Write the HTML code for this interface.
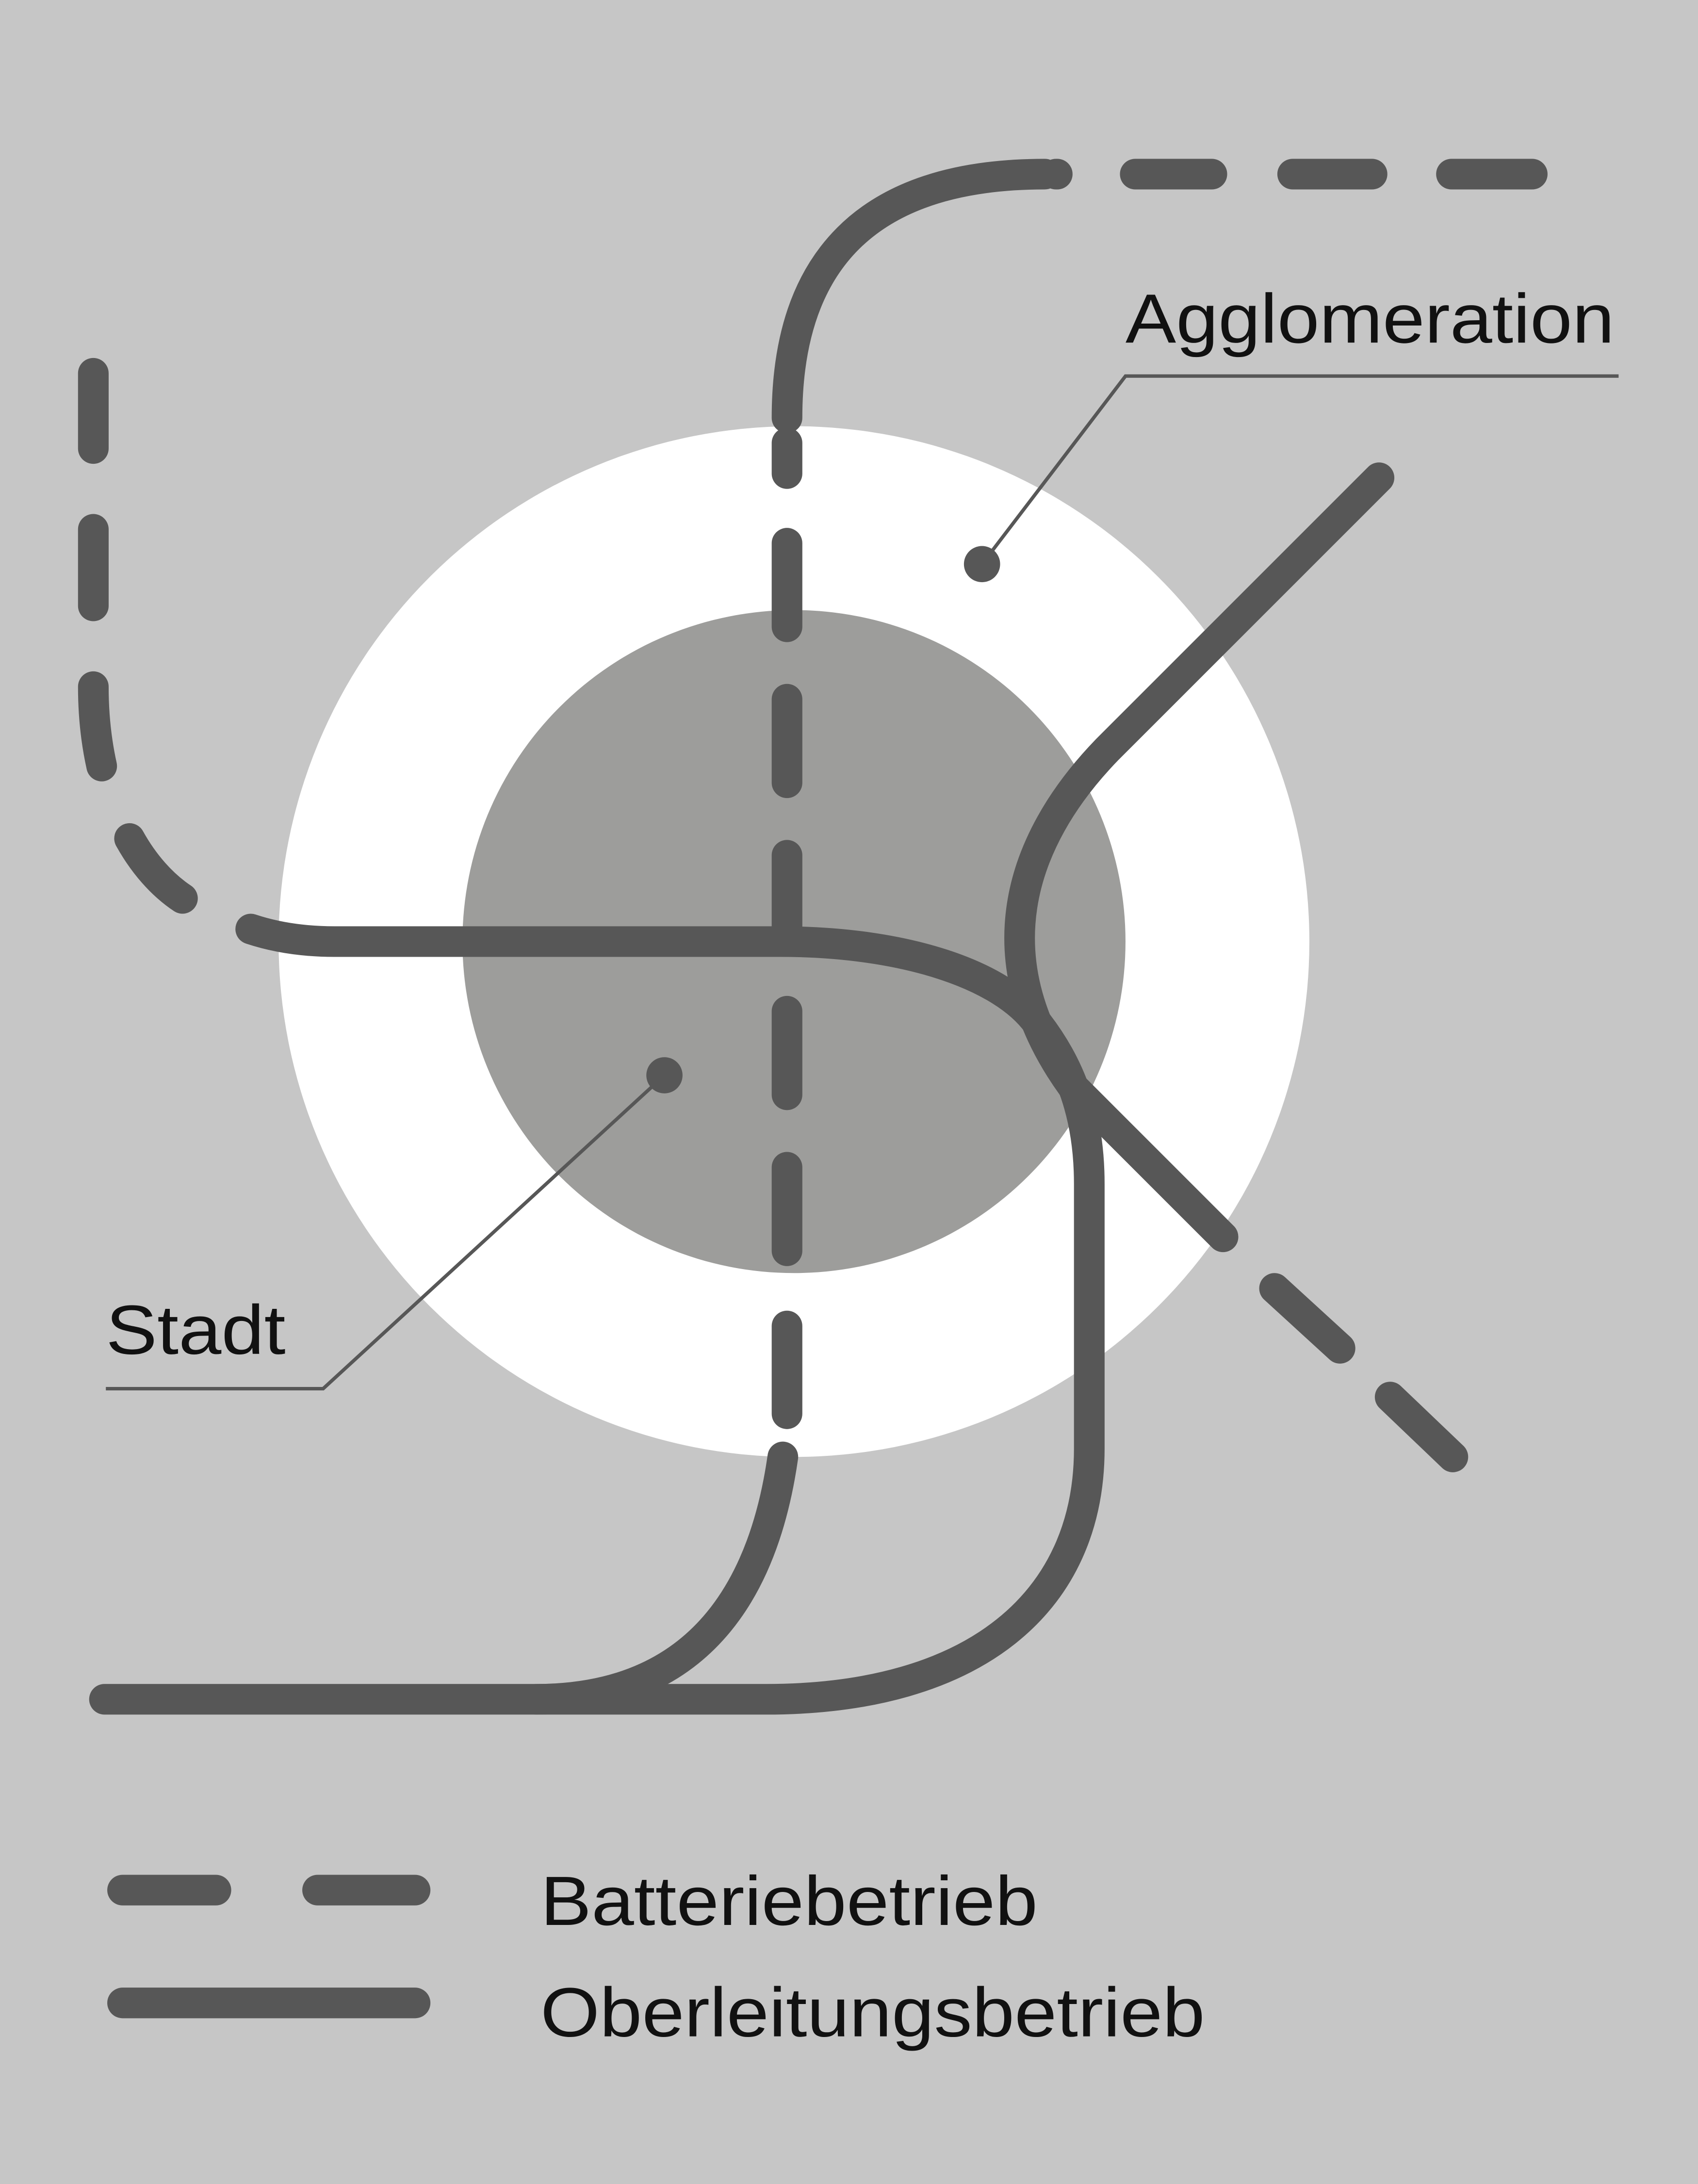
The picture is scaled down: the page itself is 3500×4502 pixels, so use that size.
<!DOCTYPE html>
<html><head><meta charset="utf-8"><style>
html,body{margin:0;padding:0;background:#c6c6c6;}
svg{display:block;}
text{font-family:"Liberation Sans",sans-serif;fill:#111;}
</style></head><body>
<svg width="3500" height="4502" viewBox="0 0 1219 1568" preserveAspectRatio="none" xmlns="http://www.w3.org/2000/svg">
<rect width="1219" height="1568" fill="#c6c6c6"/>
<circle cx="570" cy="676" r="370" fill="#ffffff"/>
<circle cx="570" cy="676" r="238" fill="#9d9d9b"/>
<g stroke="#575757" stroke-width="22" stroke-linecap="round" fill="none">
<path d="M750 125 C620 125 565 190 565 300"/>
<line x1="758" y1="125" x2="759" y2="125"/>
<line x1="815" y1="125" x2="870" y2="125"/>
<line x1="928" y1="125" x2="985" y2="125"/>
<line x1="1042" y1="125" x2="1100" y2="125"/>
<line x1="565" y1="318" x2="565" y2="340"/>
<line x1="565" y1="390" x2="565" y2="450"/>
<line x1="565" y1="502" x2="565" y2="562"/>
<line x1="565" y1="614" x2="565" y2="674"/>
<line x1="565" y1="726" x2="565" y2="786"/>
<line x1="565" y1="838" x2="565" y2="898"/>
<line x1="565" y1="952" x2="565" y2="1015"/>
<path d="M562 1046 C550 1130 510 1220 385 1220"/>
<path d="M75 1220 L550 1220 C700 1220 782 1150 782 1040 L782 850 C782 800 768 765 745 735 C720 700 650 676 560 676 L240 676 C215 676 195 672 180 667"/>
<path d="M990 343 L795 538 C730 605 705 690 770 780 L878 888"/>
<line x1="915" y1="925" x2="962" y2="968"/>
<line x1="998" y1="1003" x2="1043" y2="1046"/>
<line x1="67" y1="268" x2="67" y2="322"/>
<line x1="67" y1="380" x2="67" y2="435"/>
<path d="M67 493 C67 512 69 532 73 550"/>
<path d="M93 602 C103 620 116 635 131 645"/>
<line x1="88" y1="1357" x2="155" y2="1357"/>
<line x1="228" y1="1357" x2="298" y2="1357"/>
<line x1="88" y1="1438" x2="298" y2="1438"/>
</g>
<g stroke="#575757" stroke-width="2.5" fill="none">
<polyline points="1162,270 808,270 705,405"/>
<polyline points="76,997 232,997 477,772"/>
</g>
<circle cx="705" cy="405" r="13" fill="#575757"/>
<circle cx="477" cy="772" r="13" fill="#575757"/>
<text x="808" y="246" font-size="50" textLength="351" lengthAdjust="spacingAndGlyphs">Agglomeration</text>
<text x="76" y="972" font-size="50" textLength="129" lengthAdjust="spacingAndGlyphs">Stadt</text>
<text x="388" y="1382" font-size="50" textLength="357" lengthAdjust="spacingAndGlyphs">Batteriebetrieb</text>
<text x="388" y="1462" font-size="50" textLength="477" lengthAdjust="spacingAndGlyphs">Oberleitungsbetrieb</text>
</svg>
</body></html>
